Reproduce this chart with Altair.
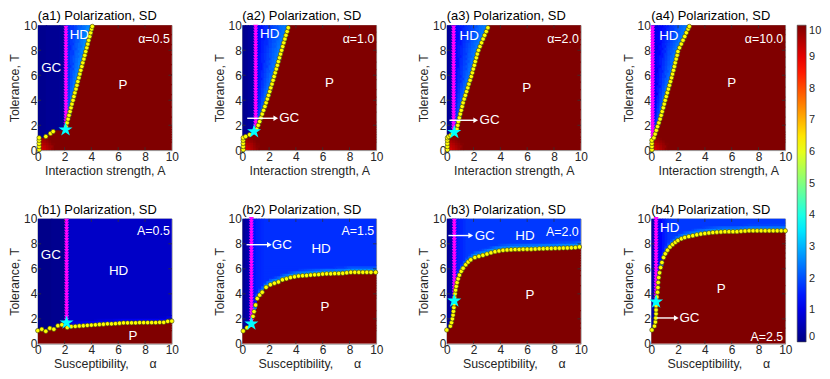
import altair as alt
import numpy as np
import pandas as pd

FONT = "Liberation Sans"

# ---------------- colour map (jet) and ticks ----------------
JET_DOMAIN = [0, 1.25, 3.75, 6.25, 8.75, 10]
JET_RANGE = ["#000080", "#0000ff", "#00ffff", "#ffff00", "#ff0000", "#800000"]
CBAR_TICKS = [0, 1, 2, 3, 4, 5, 6, 7, 8, 9, 10]
AXIS_TICKS = [0, 2, 4, 6, 8, 10]
INNER_TICKS = [2, 4, 6, 8]
CELL = 0.2
OVERLAP = 0.1
MAG_STEP = 0.22

# ---------------- (a) panels: x = interaction strength A, y = tolerance T ----------------
A1_BX = [0.1, 0.1, 0.1, 0.1, 0.1, 0.6, 0.95, 1.15, 2.07,
         2.11, 2.19, 2.26, 2.33, 2.41, 2.48, 2.55, 2.63, 2.70, 2.77, 2.85, 2.92, 2.99, 3.07,
         3.14, 3.21, 3.29, 3.36, 3.44, 3.51, 3.58, 3.66, 3.73, 3.80, 3.88, 3.95, 4.02, 4.07]
A1_BY = [0.05, 0.3, 0.55, 0.8, 1.0, 1.1, 1.35, 1.5, 1.65,
         1.9, 2.2, 2.5, 2.8, 3.1, 3.4, 3.7, 4.0, 4.3, 4.6, 4.9, 5.2, 5.5, 5.8,
         6.1, 6.4, 6.7, 7.0, 7.3, 7.6, 7.9, 8.2, 8.5, 8.8, 9.1, 9.4, 9.7, 9.9]

A2_BX = [0.07, 0.07, 0.07, 0.07, 0.07, 0.25, 0.55, 0.88,
         1.08, 1.19, 1.30, 1.40, 1.49, 1.59, 1.69, 1.78, 1.87, 1.96, 2.05, 2.13, 2.22, 2.30,
         2.38, 2.46, 2.54, 2.62, 2.70, 2.78, 2.86, 2.94, 3.02, 3.10, 3.18, 3.26, 3.35, 3.43]
A2_BY = [0.05, 0.3, 0.55, 0.8, 1.0, 1.1, 1.25, 1.5,
         1.7, 2.0, 2.3, 2.6, 2.9, 3.2, 3.5, 3.8, 4.1, 4.4, 4.7, 5.0, 5.3, 5.6,
         5.9, 6.2, 6.5, 6.8, 7.1, 7.4, 7.7, 8.0, 8.3, 8.6, 8.9, 9.2, 9.5, 9.8]

A3_BX = [0.05, 0.05, 0.05, 0.05, 0.05, 0.15, 0.3, 0.45, 0.56,
         0.76, 0.82, 0.87, 0.94, 1.01, 1.08, 1.15, 1.22, 1.30, 1.39, 1.48, 1.57, 1.65, 1.74,
         1.83, 1.91, 1.98, 2.06, 2.13, 2.21, 2.28, 2.37, 2.48, 2.60, 2.71, 2.83, 2.95, 3.07]
A3_BY = [0.05, 0.3, 0.55, 0.8, 1.0, 1.1, 1.2, 1.33, 1.44,
         1.7, 2.0, 2.3, 2.6, 2.9, 3.2, 3.5, 3.8, 4.1, 4.4, 4.7, 5.0, 5.3, 5.6,
         5.9, 6.2, 6.5, 6.8, 7.1, 7.4, 7.7, 8.0, 8.3, 8.6, 8.9, 9.2, 9.5, 9.8]

A4_BX = [0.05, 0.05, 0.05, 0.05,
         0.2, 0.29, 0.38, 0.47, 0.57, 0.66, 0.74, 0.82, 0.9, 0.97, 1.04, 1.12, 1.2, 1.28, 1.36,
         1.44, 1.52, 1.59, 1.66, 1.73, 1.79, 1.86, 1.93, 1.99, 2.11, 2.24, 2.37, 2.5, 2.62, 2.75, 2.84]
A4_BY = [0.05, 0.3, 0.55, 0.8,
         1.0, 1.3, 1.6, 1.9, 2.2, 2.5, 2.8, 3.1, 3.4, 3.7, 4.0, 4.3, 4.6, 4.9, 5.2,
         5.5, 5.8, 6.1, 6.4, 6.7, 7.0, 7.3, 7.6, 7.9, 8.2, 8.5, 8.8, 9.1, 9.4, 9.7, 9.9]

# ---------------- (b) panels: x = susceptibility alpha, y = tolerance T ----------------
B1_BX = [0.0, 0.3, 0.6, 0.9, 1.2, 1.5, 1.8, 2.2, 2.5, 2.8, 3.1, 3.4, 3.7, 4.0, 4.3, 4.6, 4.9,
         5.2, 5.5, 5.8, 6.1, 6.4, 6.7, 7.0, 7.3, 7.6, 7.9, 8.2, 8.5, 8.8, 9.1, 9.4, 9.7, 10.0]
B1_BY = [1.06, 1.17, 1.01, 1.25, 1.17, 1.45, 1.53, 1.3, 1.38, 1.4, 1.43, 1.45, 1.48, 1.5, 1.52,
         1.55, 1.57, 1.6, 1.6, 1.62, 1.65, 1.68, 1.68, 1.68, 1.68, 1.7, 1.7, 1.7, 1.7, 1.7, 1.72,
         1.72, 1.8, 1.82]

B2_BX = [0.07, 0.35, 0.68, 0.8, 0.88, 1.0, 1.12, 1.3, 1.49, 1.78, 2.1, 2.4, 2.7, 3.0, 3.3, 3.6,
         3.9, 4.2, 4.5, 4.8, 5.1, 5.4, 5.7, 6.0, 6.3, 6.6, 6.9, 7.2, 7.5, 7.8, 8.1, 8.4, 8.7, 9.0,
         9.3, 9.6, 9.95]
B2_BY = [1.03, 1.29, 1.6, 2.2, 2.58, 3.1, 3.62, 3.9, 4.13, 4.52, 4.73, 4.85, 4.95, 5.12, 5.2,
         5.3, 5.36, 5.42, 5.45, 5.47, 5.5, 5.52, 5.54, 5.58, 5.6, 5.6, 5.62, 5.63, 5.64, 5.68,
         5.72, 5.72, 5.72, 5.72, 5.72, 5.72, 5.72]

B3_BX = [0.0, 0.27, 0.36, 0.42, 0.47, 0.5, 0.53, 0.55, 0.56, 0.58, 0.62, 0.66, 0.71, 0.77, 0.85,
         0.95, 1.08, 1.22, 1.42, 1.6, 1.79, 2.1,
         2.4, 2.7, 3.0, 3.3, 3.6, 3.9, 4.2, 4.5, 4.8, 5.1, 5.4, 5.7, 6.0, 6.3, 6.6, 6.9, 7.2, 7.5,
         7.8, 8.1, 8.4, 8.7, 9.0, 9.3, 9.6, 9.9]
B3_BY = [1.11, 1.42, 1.7, 2.0, 2.3, 2.6, 2.9, 3.2, 3.44, 3.7, 4.0, 4.3, 4.6, 4.9, 5.2,
         5.5, 5.8, 6.05, 6.33, 6.55, 6.72, 6.9,
         7.0, 7.08, 7.18, 7.28, 7.37, 7.43, 7.48, 7.51, 7.53, 7.54, 7.55, 7.56, 7.57, 7.57, 7.58,
         7.6, 7.61, 7.62, 7.63, 7.64, 7.65, 7.66, 7.67, 7.68, 7.7, 7.75]

B4_BX = [0.05, 0.24, 0.31, 0.34, 0.36, 0.36, 0.36, 0.37, 0.42, 0.47, 0.5, 0.52, 0.56, 0.62, 0.7,
         0.8, 0.92, 1.05, 1.21, 1.4, 1.6, 1.8, 1.99, 2.25, 2.5, 2.8, 3.1, 3.4, 3.7, 4.0, 4.3, 4.6,
         4.9, 5.2, 5.5, 5.8, 6.1, 6.4, 6.7, 7.0, 7.3, 7.6, 7.9, 8.2, 8.5, 8.8, 9.1, 9.4, 9.7, 10.0]
B4_BY = [1.11, 1.42, 1.75, 2.07, 2.4, 2.71, 3.05, 3.36, 3.75, 4.13, 4.5, 4.91, 5.3, 5.68, 6.1,
         6.5, 6.9, 7.2, 7.49, 7.75, 7.95, 8.12, 8.27, 8.4, 8.5, 8.58, 8.65, 8.72, 8.78, 8.83, 8.87,
         8.9, 8.93, 8.95, 8.97, 8.97, 8.97, 8.97, 9.0, 9.02, 9.04, 9.04, 9.04, 9.04, 9.04, 9.04,
         9.04, 9.04, 9.04, 9.04]

STAR_PATH = ("M0,-1L0.2245,-0.309L0.9511,-0.309L0.3633,0.118L0.5878,0.809L0,0.382"
             "L-0.5878,0.809L-0.3633,0.118L-0.9511,-0.309L-0.2245,-0.309Z")

NB = "\u00a0"
XT_A = "Interaction strength, A"
XT_B = "Susceptibility," + NB * 6 + "\u03b1"

PANELS = [
    dict(title="(a1) Polarization, SD", kind="a", xt=XT_A, bx=A1_BX, by=A1_BY, star=(2.07, 1.65),
         mag=(2.1, 1.65), upper=1.6, gc=(0.15, 0.25), hd=(1.5, 2.8),
         labels=[("GC", 1.0, 6.6, "center", 13.5), ("HD", 3.1, 9.25, "center", 13.5),
                 ("P", 6.35, 5.2, "center", 13.5), ("\u03b1=0.5", 9.85, 8.9, "right", 12.5)],
         arrow=None),
    dict(title="(a2) Polarization, SD", kind="a", xt=XT_A, bx=A2_BX, by=A2_BY, star=(0.88, 1.5),
         mag=(1.0, 1.5), upper=1.45, gc=(0.1, 0.5), hd=(1.2, 2.6),
         labels=[("HD", 2.05, 9.27, "center", 13.5), ("P", 6.5, 5.35, "center", 13.5),
                 ("\u03b1=1.0", 9.85, 8.9, "right", 12.5)],
         arrow=(0.37, 2.5, 2.56, 2.75)),
    dict(title="(a3) Polarization, SD", kind="a", xt=XT_A, bx=A3_BX, by=A3_BY, star=(0.56, 1.44),
         mag=(0.51, 1.44), upper=1.4, gc=(0.1, 0.6), hd=(1.2, 2.6),
         labels=[("HD", 1.67, 9.14, "center", 13.5), ("P", 5.96, 4.96, "center", 13.5),
                 ("\u03b1=2.0", 9.85, 8.9, "right", 12.5)],
         arrow=(0.2, 2.16, 2.4, 2.45)),
    dict(title="(a4) Polarization, SD", kind="a", xt=XT_A, bx=A4_BX, by=A4_BY, star=None,
         mag=(0.1, 1.0), upper=0.9, gc=(0.5, 0.5), hd=(0.9, 2.6),
         labels=[("HD", 1.31, 9.16, "center", 13.5), ("P", 6.0, 5.37, "center", 13.5),
                 ("\u03b1=10.0", 9.85, 8.9, "right", 12.5)],
         arrow=None),
    dict(title="(b1) Polarization, SD", kind="b", xt=XT_B, bx=B1_BX, by=B1_BY, star=(2.15, 1.69),
         mag=(2.15, 1.69), gc=(0.1, 0.15), hd=(0.7, 0.7), band=(1.6, 0.4),
         labels=[("GC", 0.97, 7.1, "center", 13.5), ("HD", 6.03, 5.8, "center", 13.5),
                 ("P", 7.1, 0.6, "center", 13.5), ("A=0.5", 9.85, 9.04, "right", 12.5)],
         arrow=None),
    dict(title="(b2) Polarization, SD", kind="b", xt=XT_B, bx=B2_BX, by=B2_BY, star=(0.68, 1.6),
         mag=(0.68, 1.6), gc=(0.1, 0.7), hd=(1.4, 1.7), band=(3.2, 0.5),
         labels=[("HD", 5.88, 7.57, "center", 13.5), ("P", 6.17, 2.97, "center", 13.5),
                 ("A=1.5", 9.85, 9.04, "right", 12.5)],
         arrow=(0.32, 2.02, 7.93, 2.2)),
    dict(title="(b3) Polarization, SD", kind="b", xt=XT_B, bx=B3_BX, by=B3_BY, star=(0.56, 3.44),
         mag=(0.56, 3.44), gc=(0.1, 0.8), hd=(1.4, 1.8), band=(3.2, 0.5),
         labels=[("HD", 5.83, 8.66, "center", 13.5), ("P", 6.2, 3.88, "center", 13.5),
                 ("A=2.0", 9.85, 8.97, "right", 12.5)],
         arrow=(0.12, 1.79, 8.66, 2.08)),
    dict(title="(b4) Polarization, SD", kind="b", xt=XT_B, bx=B4_BX, by=B4_BY, star=(0.36, 3.36),
         mag=(0.36, 3.36), gc=(0.2, 0.9), hd=(1.0, 1.8), band=(3.0, 0.5),
         labels=[("HD", 1.38, 9.25, "center", 13.5), ("P", 5.22, 4.39, "center", 13.5),
                 ("A=2.5", 9.85, 0.57, "right", 12.5)],
         arrow=(0.41, 1.87, 2.07, 2.1)),
]

for p in PANELS:
    assert len(p["bx"]) == len(p["by"]), p["title"]

PW, PH = 135, 126          # plot area of one panel
HSP, VSP = 71, 26          # spacing between panels
ROW_GAP = 67               # distance between row a plot bottom and row b plot top


def inside(px, py, poly):
    xs = np.array([q[0] for q in poly])
    ys = np.array([q[1] for q in poly])
    res = np.zeros(px.shape, dtype=bool)
    j = len(poly) - 1
    for i in range(len(poly)):
        xi, yi, xj, yj = xs[i], ys[i], xs[j], ys[j]
        dy = yj - yi
        if dy == 0:
            dy = 1e-9
        cond = ((yi > py) != (yj > py)) & (px < (xj - xi) * (py - yi) / dy + xi)
        res ^= cond
        j = i
    return res


def heat_table(p):
    n = int(round(10 / CELL))
    c = (np.arange(n) + 0.5) * CELL
    X, Y = np.meshgrid(c, c)
    bx, by = np.array(p["bx"]), np.array(p["by"])
    if p["kind"] == "a":
        poly = list(zip(bx, by)) + [(bx[-1] + 0.1, 10.6), (10.6, 10.6), (10.6, -0.6), (bx[0], -0.6)]
    else:
        poly = list(zip(bx, by)) + [(10.6, by[-1]), (10.6, -0.6), (-0.6, -0.6), (-0.6, by[0])]
    P = inside(X, Y, poly)
    m = p["mag"][0]
    g0, g1 = p["gc"]
    gc_val = g0 + (g1 - g0) * np.clip(X / m, 0, 1)
    h0, h1 = p["hd"]
    if p["kind"] == "a":
        up = by >= p["upper"]
        ab = np.interp(Y, by[up], bx[up])
        frac = np.clip((X - m) / np.maximum(ab - m, 1e-6), 0, 1)
        hd_val = h0 + (h1 - h0) * frac
        r = np.hypot(X - bx[0], Y)
        p_val = 10 - 1.0 * np.clip(1 - r / 1.2, 0, 1)
    else:
        hd_val = h0 + (h1 - h0) * np.clip((X - m) / 1.0, 0, 1)
        tb = np.interp(X, bx, by)
        bv, bw = p["band"]
        ramp = np.clip((Y - tb) / bw, 0, 1)
        hd_val = np.where(X > m + 0.15, bv + (hd_val - bv) * ramp, hd_val)
        p_val = np.full(X.shape, 10.0)
    v = np.where(P, p_val, np.where(X < m, gc_val, hd_val))
    q = np.round(v / 0.05) * 0.05
    out, open_ = [], {}
    for i in range(n):
        new_open = {}
        j = 0
        while j < n:
            k = j
            while k + 1 < n and q[i, k + 1] == q[i, j]:
                k += 1
            key = (j, k, float(q[i, j]))
            if key in open_:
                rect = open_[key]
                rect[3] = (i + 1) * CELL
            else:
                rect = [j * CELL, (k + 1) * CELL, i * CELL, (i + 1) * CELL, key[2]]
                out.append(rect)
            new_open[key] = rect
            j = k + 1
        open_ = new_open
    df = pd.DataFrame(out, columns=["x", "x2", "y", "y2", "v"])
    df["x2"] = df["x2"] + OVERLAP
    df["y2"] = df["y2"] + OVERLAP
    return df


XS = alt.Scale(domain=[0, 10], nice=False, zero=False)
YS = alt.Scale(domain=[0, 10], nice=False, zero=False)
CS = alt.Scale(type="linear", domain=JET_DOMAIN, range=JET_RANGE, interpolate="rgb", clamp=True)


def xe(title):
    return alt.X("x:Q", scale=XS, title=title,
                 axis=alt.Axis(values=AXIS_TICKS, labelFlush=False, labelOverlap=False))


def ye():
    return alt.Y("y:Q", scale=YS, title="Tolerance, T",
                 axis=alt.Axis(values=AXIS_TICKS, labelFlush=False, labelOverlap=False))


def tick_table():
    rows = []
    for t in INNER_TICKS:
        rows += [(t, t, 0, 0.25), (t, t, 9.75, 10), (0, 0.25, t, t), (9.75, 10, t, t)]
    return pd.DataFrame(rows, columns=["x", "x2", "y", "y2"])


LEGEND = alt.Legend(
    type="gradient", title=None, orient="none", direction="vertical",
    legendX=4 * PW + 3 * HSP + 12, legendY=0,
    gradientLength=2 * PH + ROW_GAP, gradientThickness=9,
    values=CBAR_TICKS, labelFontSize=11, labelFont=FONT, labelColor="#262626",
    labelBaseline="middle",
    gradientStrokeColor="#444", gradientStrokeWidth=0.6, labelOffset=3, padding=0)


def panel(p):
    xt = p["xt"]
    heat = alt.Chart(heat_table(p)).mark_rect(clip=True).encode(
        x=xe(xt), x2="x2:Q", y=ye(), y2="y2:Q",
        color=alt.Color("v:Q", scale=CS, legend=LEGEND),
    )
    ticks = alt.Chart(tick_table()).mark_rule(color="#333333", strokeWidth=0.8).encode(
        x=xe(xt), x2="x2:Q", y=ye(), y2="y2:Q")
    m, t0 = p["mag"]
    nm = int(np.floor((10 - t0) / MAG_STEP)) + 1
    mag_df = pd.DataFrame({"x": [m] * nm, "y": [t0 + i * MAG_STEP for i in range(nm)]})
    mag = alt.Chart(mag_df).mark_point(shape="triangle-down", filled=True, size=26,
                                       color="#ff00ff", opacity=1).encode(x=xe(xt), y=ye())
    dots = alt.Chart(pd.DataFrame({"x": p["bx"], "y": p["by"]})).mark_point(
        shape="circle", filled=True, size=20, fill="#ffff00", stroke="#3a3a10",
        strokeWidth=0.6, opacity=1).encode(x=xe(xt), y=ye())
    layers = [heat, ticks, mag, dots]
    if p["star"] is not None:
        sdf = pd.DataFrame({"x": [p["star"][0]], "y": [p["star"][1]]})
        layers.append(alt.Chart(sdf).mark_point(shape=STAR_PATH, filled=True, size=70,
                                                fill="#00ffff", stroke="#00ffff", opacity=1)
                      .encode(x=xe(xt), y=ye()))
    if p["arrow"] is not None:
        x1, x2, ya, xtx = p["arrow"]
        adf = pd.DataFrame({"x": [x1], "x2": [x2], "y": [ya]})
        layers.append(alt.Chart(adf).mark_rule(color="white", strokeWidth=1.4).encode(
            x=xe(xt), x2="x2:Q", y=ye()))
        hdf = pd.DataFrame({"x": [x2], "y": [ya]})
        layers.append(alt.Chart(hdf).mark_point(shape="triangle-right", filled=True, size=30,
                                                color="white", opacity=1).encode(x=xe(xt), y=ye()))
        gdf = pd.DataFrame({"x": [xtx], "y": [ya], "t": ["GC"]})
        layers.append(alt.Chart(gdf).mark_text(color="white", fontSize=13.5, font=FONT,
                                               align="left", baseline="middle").encode(
            x=xe(xt), y=ye(), text="t:N"))
    for (txt, lx, ly, al, fs) in p["labels"]:
        ldf = pd.DataFrame({"x": [lx], "y": [ly], "t": [txt]})
        layers.append(alt.Chart(ldf).mark_text(color="white", fontSize=fs, font=FONT,
                                               align=al, baseline="middle").encode(
            x=xe(xt), y=ye(), text="t:N"))
    return alt.layer(*layers).properties(
        width=PW, height=PH,
        title=alt.TitleParams(p["title"], anchor="start", fontSize=13, font=FONT,
                              fontWeight="normal", color="black", offset=-4, frame="group"))


row_a = alt.hconcat(*[panel(p) for p in PANELS[:4]], spacing=HSP, bounds="flush")
row_b = alt.hconcat(*[panel(p) for p in PANELS[4:]], spacing=HSP, bounds="flush")

chart = alt.vconcat(row_a, row_b, spacing=VSP).properties(
    padding=0, background="white"
).configure_axis(
    labelFont=FONT, titleFont=FONT, labelFontSize=12, titleFontSize=12.5,
    labelColor="#262626", titleColor="#262626", titleFontWeight="normal",
    ticks=False, domain=False, grid=False, labelPadding=1, titlePadding=2,
).configure_view(stroke="#7a7a7a", strokeWidth=0.8)

chart.save("out.html", embed_options={"renderer": "svg", "actions": False})
